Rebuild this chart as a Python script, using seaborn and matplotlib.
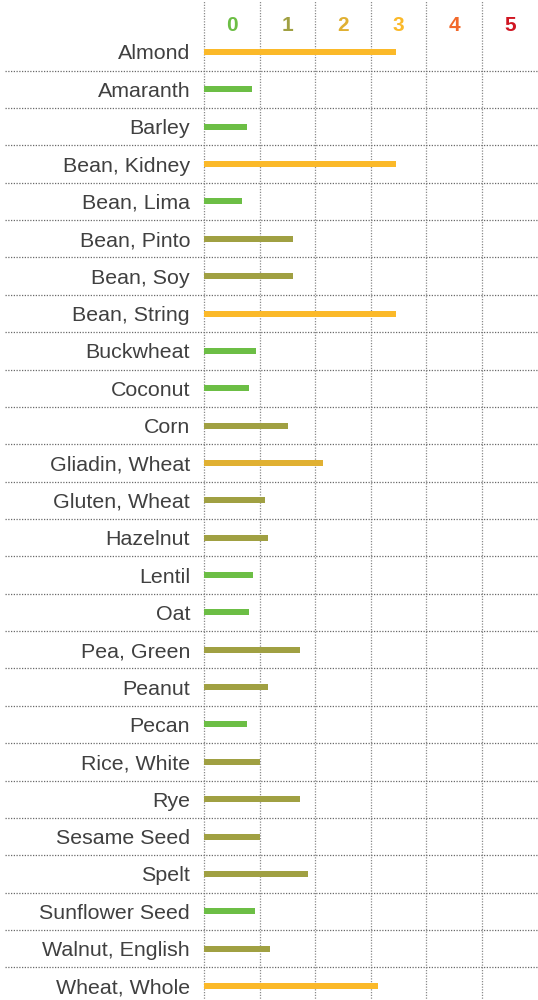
import matplotlib
matplotlib.use("Agg")
import matplotlib.pyplot as plt
import seaborn as sns
import pandas as pd

# ---- data ----
foods = ["Almond", "Amaranth", "Barley", "Bean, Kidney", "Bean, Lima",
         "Bean, Pinto", "Bean, Soy", "Bean, String", "Buckwheat", "Coconut",
         "Corn", "Gliadin, Wheat", "Gluten, Wheat", "Hazelnut", "Lentil",
         "Oat", "Pea, Green", "Peanut", "Pecan", "Rice, White", "Rye",
         "Sesame Seed", "Spelt", "Sunflower Seed", "Walnut, English",
         "Wheat, Whole"]
values = [3.46, 0.86, 0.77, 3.46, 0.68, 1.60, 1.60, 3.46, 0.94, 0.81,
          1.51, 2.14, 1.10, 1.15, 0.88, 0.81, 1.73, 1.15, 0.77, 1.01,
          1.73, 1.01, 1.87, 0.92, 1.19, 3.13]
classes = ["3", "0", "0", "3", "0", "1", "1", "3", "0", "0",
           "1", "2", "1", "1", "0", "0", "1", "1", "0", "1",
           "1", "1", "1", "0", "1", "3"]
class_labels = ["0", "1", "2", "3", "4", "5"]
class_colors = ["#6CBE45", "#A0A042", "#E0B032", "#FBB929", "#F2682A", "#D01622"]

df = pd.DataFrame({"food": foods, "value": values, "cls": classes})
palette = dict(zip(class_labels, class_colors))

# ---- figure ----
sns.set_style("white")
plt.rcParams["font.family"] = ["Liberation Sans", "DejaVu Sans"]

W, H = 538, 1000
fig = plt.figure(figsize=(W / 100, H / 100), dpi=100)
left_px, unit_px = 204, 55.6
right_px = left_px + 6 * unit_px
top_px, bottom_px = 33.3, 1004.7
ax = fig.add_axes([left_px / W, 1 - bottom_px / H,
                   (right_px - left_px) / W, (bottom_px - top_px) / H])

sns.barplot(data=df, x="value", y="food", hue="cls", palette=palette,
            hue_order=class_labels, dodge=False, width=0.16, orient="h",
            saturation=1, legend=False, linewidth=0, ax=ax)

n = len(foods)
ax.set_xlim(0, 6)
ax.set_ylim(n - 0.5, -0.5)
for s in ax.spines.values():
    s.set_visible(False)
ax.set_xlabel("")
ax.set_ylabel("")

# vertical dotted grid lines (extend to top of figure)
ymax_ext = bottom_px / (bottom_px - top_px)
for k in range(6):
    ax.axvline(k, ymin=0, ymax=ymax_ext, color="#8a8a8a", lw=0.9,
               linestyle=(0, (1, 1.2)), clip_on=False, zorder=0)

# horizontal dotted separators (extend to the left under labels)
xmin_ext = (5 - left_px) / (right_px - left_px)
for i in range(n - 1):
    ax.axhline(i + 0.5, xmin=xmin_ext, xmax=1.0, color="#6a6a6a", lw=0.9,
               linestyle=(0, (1, 1.2)), clip_on=False, zorder=0)

# top tick labels (class levels)
ax.xaxis.tick_top()
ax.set_xticks([k + 0.5 for k in range(6)])
ax.set_xticklabels(class_labels, fontsize=15, fontweight="bold")
for lab, c in zip(ax.get_xticklabels(), class_colors):
    lab.set_color(c)
ax.tick_params(axis="x", length=0, pad=-1.5)

ax.tick_params(axis="y", length=0, pad=10, labelsize=15.4, labelcolor="#404040")

fig.savefig("out.png", dpi=100)
